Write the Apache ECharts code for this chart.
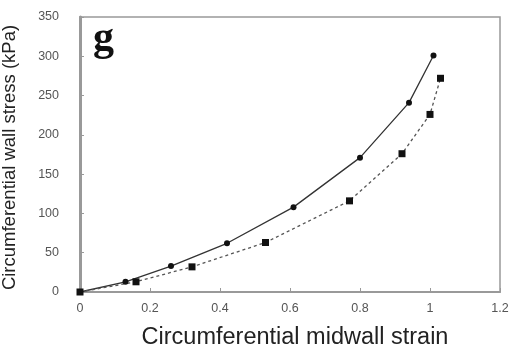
<!DOCTYPE html>
<html><head><meta charset="utf-8">
<script src="https://cdn.jsdelivr.net/npm/echarts@6/dist/echarts.min.js"></script>
<style>html,body{margin:0;padding:0;background:#fff}#c{width:513px;height:346px}</style>
</head><body><div id="c"></div>
<script>
const solidX = [0, 0.13, 0.26, 0.42, 0.61, 0.80, 0.94, 1.01];
const solidY = [0, 13, 33, 62, 108, 171, 241, 301];
const dashX = [0, 0.16, 0.32, 0.53, 0.77, 0.92, 1.00, 1.03];
const dashY = [0, 13, 32, 63, 116, 176, 226, 272];
const xTicks = [0, 0.2, 0.4, 0.6, 0.8, 1, 1.2];
const yTicks = [0, 50, 100, 150, 200, 250, 300, 350];

const chart = echarts.init(document.getElementById('c'));
chart.setOption({
  animation: false,
  grid: {left: 80, right: 13, top: 17, bottom: 54, show: true, borderColor: '#999', borderWidth: 1.5,
         containLabel: false, outerBoundsMode: 'none'},
  title: {text: 'g', left: 88, top: 13, textStyle: {fontFamily: 'Liberation Serif', fontWeight: 'bold', fontSize: 42, color: '#111'}},
  xAxis: {
    type: 'value', min: 0, max: 1.2, interval: 0.2,
    name: 'Circumferential midwall strain', nameLocation: 'middle', nameGap: 34,
    nameTextStyle: {fontFamily: 'Liberation Sans', fontSize: 23.5, color: '#222', padding: [0, 0, 0, 10]},
    axisLine: {lineStyle: {color: '#999', width: 2}},
    axisTick: {show: true, inside: true, length: 4, lineStyle: {color: '#999'}},
    axisLabel: {fontFamily: 'Liberation Sans', fontSize: 12.5, color: '#555', margin: 10,
      formatter: v => String(+v.toFixed(1))},
    splitLine: {show: false}
  },
  yAxis: {
    type: 'value', min: 0, max: 350, interval: 50,
    name: 'Circumferential wall stress (kPa)', nameLocation: 'middle', nameGap: 61, nameRotate: 90,
    nameTextStyle: {fontFamily: 'Liberation Sans', fontSize: 18.5, color: '#222', padding: [0, 6, 0, 0]},
    axisLine: {show: true, lineStyle: {color: '#999', width: 3}},
    axisTick: {show: true, inside: true, length: 4, lineStyle: {color: '#999'}},
    axisLabel: {fontFamily: 'Liberation Sans', fontSize: 12.5, color: '#555', margin: 21},
    splitLine: {show: false}
  },
  series: [
    {type: 'line', data: solidX.map((x, i) => [x, solidY[i]]), symbol: 'circle', symbolSize: 6,
     itemStyle: {color: '#111'}, lineStyle: {color: '#333', width: 1.3, type: 'solid'}},
    {type: 'line', data: dashX.map((x, i) => [x, dashY[i]]), symbol: 'rect', symbolSize: 7,
     itemStyle: {color: '#111'}, lineStyle: {color: '#555', width: 1.3, type: [3, 3]}}
  ]
});
</script></body></html>
